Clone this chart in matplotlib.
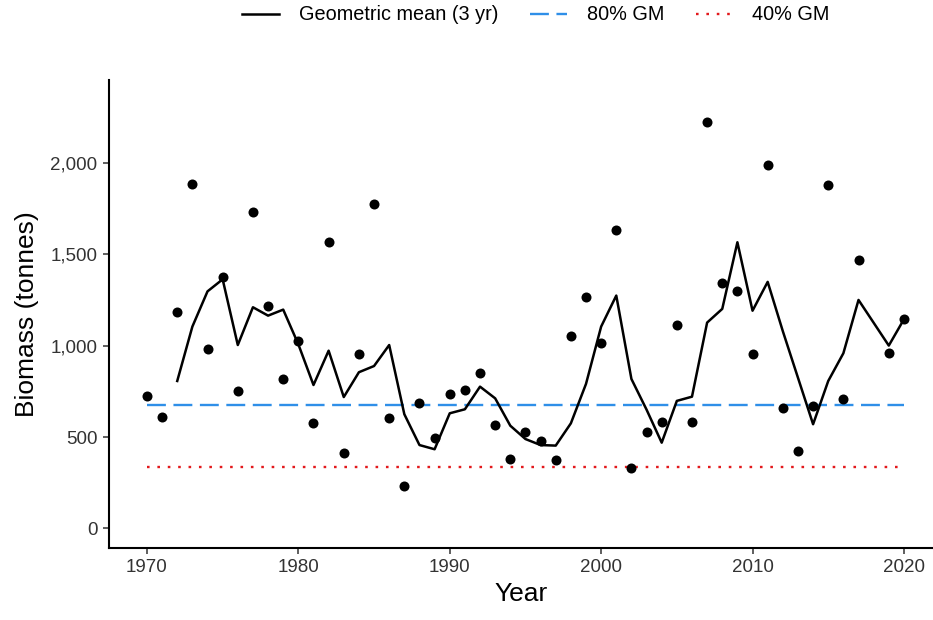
import numpy as np
import matplotlib
matplotlib.use("Agg")
import matplotlib.pyplot as plt
from matplotlib.ticker import FuncFormatter
from matplotlib.lines import Line2D

plt.rcParams['font.family'] = ['Liberation Sans', 'DejaVu Sans']

years = list(range(1970, 2021))
biomass = [727, 608, 1187, 1887, 982, 1377, 752, 1733, 1216, 820,
           1026, 575, 1571, 413, 955, 1777, 603, 234, 685, 497,
           734, 758, 851, 568, 378, 529, 480, 374, 1055, 1266,
           1014, 1633, 332, 526, 584, 1114, 581, 2228, 1346, 1302,
           957, 1989, 661, 424, 670, 1879, 707, 1472, np.nan, 960,
           1145]
geo_mean = [np.nan, np.nan, 807, 1105, 1298, 1364, 1004, 1211, 1165, 1198,
            1008, 785, 973, 719, 855, 889, 1004, 625, 456, 433,
            630, 652, 776, 712, 562, 489, 456, 453, 575, 791,
            1105, 1275, 818, 650, 469, 698, 721, 1127, 1202, 1567,
            1192, 1350, 1080, 825, 570, 807, 959, 1251, np.nan, 1001,
            1145]
gm80 = 674
gm40 = 337
legend_labels = ["Geometric mean (3 yr)", "80% GM", "40% GM"]
yticks = [0, 500, 1000, 1500, 2000]
xticks = [1970, 1980, 1990, 2000, 2010, 2020]

W, H = 933, 620
fig = plt.figure(figsize=(W / 100, H / 100), dpi=100)
ax = fig.add_axes([108.5 / W, 1 - 548 / H, 1 - 108.5 / W, (548 - 80) / H])

yrs = np.array(years, dtype=float)
b = np.array(biomass, dtype=float)
g = np.array(geo_mean, dtype=float)
m = ~np.isnan(g)

blue = '#2f8fe8'
red = '#e3191c'
dash80 = (0, (8.0, 3.2))
dot40 = (0, (1.1, 3.3))

ax.plot([years[0], years[-1]], [gm80, gm80], color=blue, lw=1.7,
        linestyle=dash80, zorder=2)
ax.plot([years[0], years[-1]], [gm40, gm40], color=red, lw=1.7,
        linestyle=dot40, zorder=2)
ax.plot(yrs[m], g[m], color='black', lw=1.8, zorder=3)
ax.scatter(yrs, b, s=52, color='black', zorder=4, linewidths=0)

ax.set_xlim(1967.46, 2021.92)
ax.set_ylim(-108, 2456)
ax.set_xticks(xticks)
ax.set_yticks(yticks)
ax.yaxis.set_major_formatter(FuncFormatter(lambda v, p: f"{int(v):,}"))

for s in ['top', 'right']:
    ax.spines[s].set_visible(False)
for s in ['left', 'bottom']:
    ax.spines[s].set_linewidth(1.5)
    ax.spines[s].set_color('black')
ax.tick_params(axis='both', length=4, width=1.1, color='#333333',
               labelsize=13.5, labelcolor='#333333', pad=4)

ax.set_xlabel("Year", fontsize=19, labelpad=4)
ax.set_ylabel("Biomass (tonnes)", fontsize=19, labelpad=8)

handles = [Line2D([], [], color='black', lw=1.8),
           Line2D([], [], color=blue, lw=1.7, linestyle=dash80),
           Line2D([], [], color=red, lw=1.7, linestyle=dot40)]
fig.legend(handles, legend_labels, loc='center', ncol=3, frameon=False,
           bbox_to_anchor=(536 / W, 1 - 15 / H), fontsize=14.3,
           handlelength=1.85, handletextpad=1.0, columnspacing=1.6,
           borderpad=0.0)

fig.savefig("out.png", dpi=100)
